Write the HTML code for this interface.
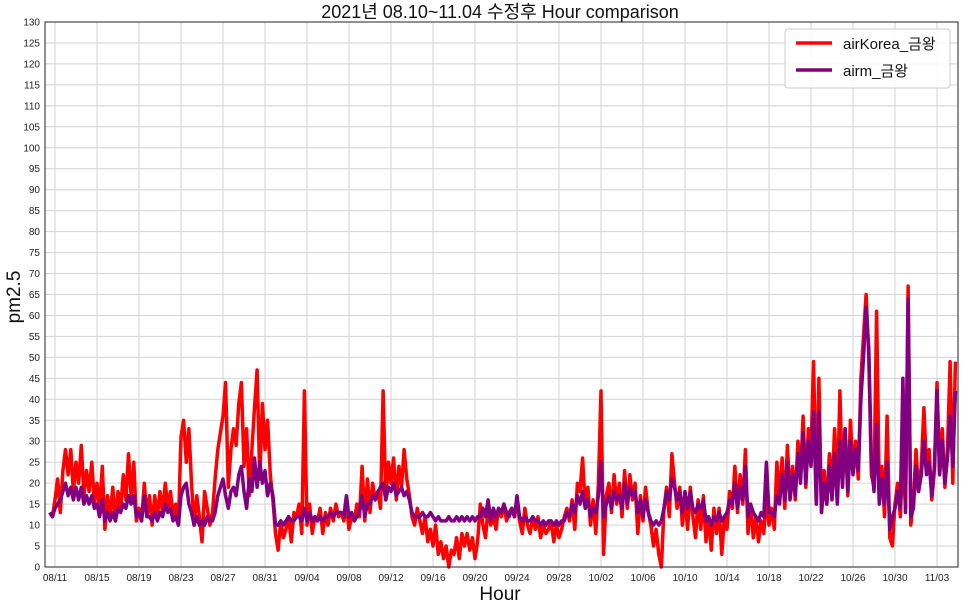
<!DOCTYPE html>
<html><head><meta charset="utf-8"><style>
body{margin:0;background:#fff;}
svg text{font-family:"Liberation Sans","Noto Sans CJK KR",sans-serif;}
</style></head><body>
<svg id="chart" width="967" height="607" xmlns="http://www.w3.org/2000/svg">
<rect width="967" height="607" fill="#fff"/>
<g id="grid"></g>
<g id="yticks"></g>
<g id="xticks"></g>
<g id="series"></g>
<rect x="45" y="22" width="913" height="545" fill="none" stroke="#222" stroke-width="1"/>
<text x="500" y="18" font-size="18" text-anchor="middle" fill="#111">2021년 08.10~11.04 수정후 Hour comparison</text>
<text transform="translate(20,297) rotate(-90)" font-size="19" text-anchor="middle" fill="#111">pm2.5</text>
<text x="500" y="600" font-size="19" text-anchor="middle" fill="#111">Hour</text>
<g>
<rect x="785" y="29" width="165" height="59" rx="3" fill="#fff" fill-opacity="0.85" stroke="#ccc"/>
<line x1="796" y1="43" x2="832" y2="43" stroke="#ff0000" stroke-width="3.5"/>
<text x="843" y="49" font-size="15" fill="#111">airKorea_금왕</text>
<line x1="796" y1="70" x2="832" y2="70" stroke="#800080" stroke-width="3.5"/>
<text x="843" y="76" font-size="15" fill="#111">airm_금왕</text>
</g>
</svg>
<script>
const tickLabels=["08/11","08/15","08/19","08/23","08/27","08/31","09/04","09/08","09/12","09/16","09/20","09/24","09/28","10/02","10/06","10/10","10/14","10/18","10/22","10/26","10/30","11/03"];
const yTicks=[0,5,10,15,20,25,30,35,40,45,50,55,60,65,70,75,80,85,90,95,100,105,110,115,120,125,130];
const airKorea=[13,12,
16,21,13,23, 28,22,28,18, 25,20,29,17, 23,18,25,15, 20,14,24,9, 17,12,19,11, 18,14,22,16, 27,17,25,11, 14,11,20,12, 17,10,17,12,
18,13,20,14, 18,12,15,10, 31,35,25,33, 20,10,17,12, 6,18,14,10, 13,21,28,32, 36,44,19,28, 33,29,39,44, 24,33,17,28, 38,47,21,39,
28,35,22,16, 8,4,11,7, 9,12,6,13, 12,15,8,42, 10,15,8,12, 11,14,8,13, 10,14,11,15, 12,13,11,15, 9,12,11,15, 12,24,11,21,
13,20,16,18, 14,42,16,25, 20,26,16,24, 19,28,21,17, 12,10,14,11, 8,12,6,9, 5,10,3,6, 2,5,0,4, 3,7,2,8, 5,8,4,7,
2,6,15,10, 7,14,10,12, 9,14,12,15, 11,13,14,12, 16,11,8,14, 10,8,12,9, 12,7,10,8, 9,11,6,10, 7,9,12,14, 11,16,9,20,
18,26,14,19, 10,16,8,20, 42,3,17,20, 13,22,15,20, 12,23,14,22, 16,20,8,17, 11,19,13,10, 5,9,3,0, 14,19,12,27, 20,14,19,10,
17,9,19,12, 7,16,9,17, 6,12,4,14, 8,14,3,12, 9,18,14,24, 13,22,15,28, 8,15,7,12, 6,11,8,17, 10,14,9,25, 16,26,14,29,
17,24,16,30, 22,36,19,33, 28,49,15,45, 13,23,15,27, 18,33,16,42, 20,33,17,35, 23,30,21,45, 55,65,50,22, 19,61,18,24, 12,36,7,5,
15,20,12,26, 14,67,10,16, 28,18,24,38, 24,28,16,23, 44,23,33,19, 28,49,20,49];
const airm=[13,12,
14,15,16,18, 20,17,19,16, 19,16,19,15, 17,15,17,14, 15,12,16,11, 13,11,13,11, 14,13,15,14, 17,15,17,12, 13,11,17,12, 12,11,13,11,
13,12,15,13, 14,11,12,10, 17,19,20,15, 13,10,12,10, 11,10,12,11, 11,13,17,19, 21,17,14,18, 19,17,22,24, 18,14,21,18, 26,19,25,20,
23,17,20,17, 10,10,11,10, 11,12,11,11, 12,12,11,14, 11,13,11,12, 11,12,11,12, 12,13,12,13, 13,13,12,17, 12,13,11,12, 13,17,12,15,
15,17,16,18, 19,20,16,19, 18,20,17,18, 19,17,18,16, 13,12,12,12, 13,12,12,13, 12,11,12,11, 11,11,12,11, 11,12,11,12, 11,12,11,12,
11,12,12,14, 12,16,11,14, 12,14,13,15, 13,12,14,12, 17,12,11,12, 11,11,12,11, 11,10,11,10, 11,11,10,11, 10,11,11,13, 12,15,13,17,
15,18,14,16, 12,14,13,17, 25,12,15,17, 14,18,16,17, 14,20,15,19, 17,18,13,16, 12,16,13,11, 10,11,10,11, 14,18,16,21, 19,16,18,13,
18,14,18,14, 13,15,14,16, 11,12,10,12, 11,13,11,12, 13,16,15,20, 14,19,16,24, 12,15,13,12, 11,13,12,25, 13,13,12,17, 15,22,16,25,
16,22,17,27, 20,32,20,30, 24,37,15,37, 13,20,15,24, 16,27,15,30, 19,33,18,30, 22,28,23,40, 50,62,52,25, 18,34,15,21, 15,25,9,12,
14,18,14,45, 13,64,12,14, 24,18,22,30, 22,25,17,24, 42,22,30,20, 26,36,24,42];
const startDay=-0.5, stepDay=0.25;
const NS="http://www.w3.org/2000/svg";
function xPos(d){return 55+d*10.5;}
function yPos(v){return 567-v*(545/130);}
const grid=document.getElementById('grid'),yt=document.getElementById('yticks'),xt=document.getElementById('xticks'),ser=document.getElementById('series');
yTicks.forEach(v=>{
  const y=yPos(v);
  const l=document.createElementNS(NS,'line');
  l.setAttribute('x1',45);l.setAttribute('x2',958);l.setAttribute('y1',y);l.setAttribute('y2',y);
  l.setAttribute('stroke','#d3d3d3');l.setAttribute('stroke-width','1');
  
  
  grid.appendChild(l);
  const t=document.createElementNS(NS,'text');
  t.setAttribute('x',40);t.setAttribute('y',y+3.5);t.setAttribute('font-size','10');t.setAttribute('text-anchor','end');t.setAttribute('fill','#222');
  t.textContent=v;
  
  
  yt.appendChild(t);
});
tickLabels.forEach((s,i)=>{
  const x=xPos(i*4);
  const l=document.createElementNS(NS,'line');
  l.setAttribute('x1',x);l.setAttribute('x2',x);l.setAttribute('y1',22);l.setAttribute('y2',567);
  l.setAttribute('stroke','#d3d3d3');l.setAttribute('stroke-width','1');
  
  
  grid.appendChild(l);
  const t=document.createElementNS(NS,'text');
  t.setAttribute('x',x);t.setAttribute('y',581);t.setAttribute('font-size','10');t.setAttribute('text-anchor','middle');t.setAttribute('fill','#222');
  t.textContent=s;
  
  
  xt.appendChild(t);
});
function drawLine(arr,color,name){
  const p=document.createElementNS(NS,'polyline');
  p.setAttribute('points',arr.map((v,i)=>xPos(startDay+i*stepDay).toFixed(1)+','+yPos(v).toFixed(1)).join(' '));
  p.setAttribute('fill','none');p.setAttribute('stroke',color);p.setAttribute('stroke-width','3.5');p.setAttribute('stroke-linejoin','round');
  
  
  ser.appendChild(p);
}
drawLine(airKorea,'#ff0000','airkorea-line');
drawLine(airm,'#800080','airm-line');
</script>
</body></html>
